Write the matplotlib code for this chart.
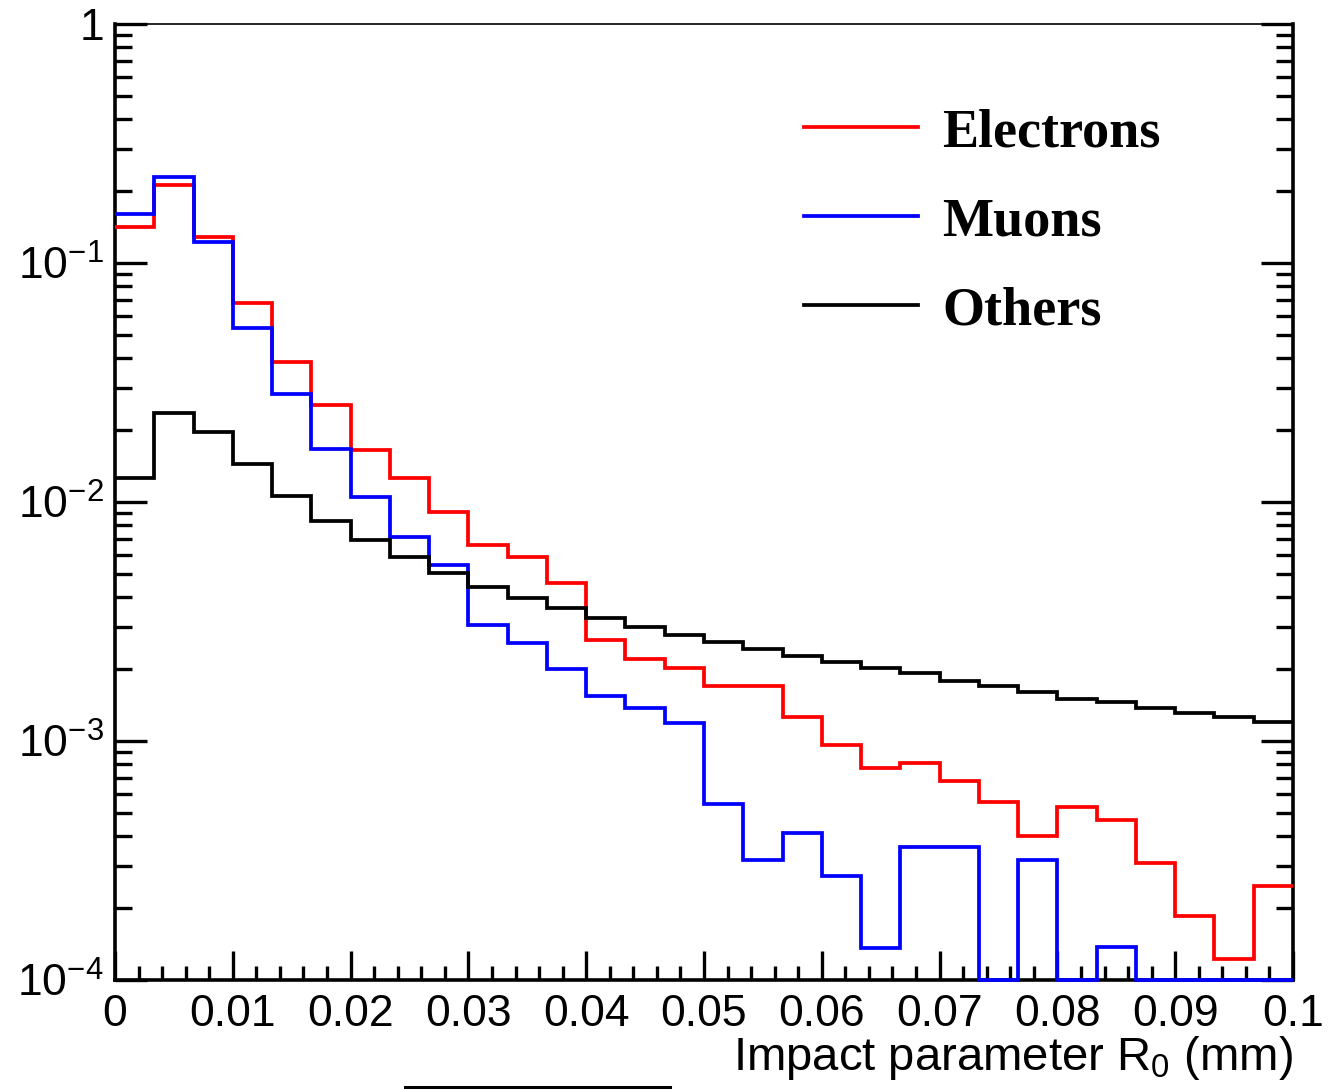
import numpy as np
import matplotlib
matplotlib.use("Agg")
import matplotlib.pyplot as plt
from matplotlib.lines import Line2D
from matplotlib.ticker import FixedLocator, NullFormatter

plt.rcParams['font.family'] = ['Liberation Sans', 'DejaVu Sans']
plt.rcParams['mathtext.fontset'] = 'custom'
plt.rcParams['mathtext.rm'] = 'Liberation Sans'
plt.rcParams['mathtext.it'] = 'Liberation Sans'

# 30 bins over [0, 0.1] mm, normalised fractions per bin
edges = np.linspace(0.0, 0.1, 31)

electrons = [0.1419, 0.2120, 0.1288, 0.0678, 0.0384, 0.02546, 0.01650, 0.01263,
             0.00911, 0.00661, 0.00590, 0.00457, 0.002646, 0.002198, 0.002014,
             0.001698, 0.001698, 0.001266, 0.000958, 0.000773, 0.000807, 0.000680,
             0.000557, 0.000402, 0.000528, 0.000466, 0.000308, 0.000186, 0.000123,
             0.000247]
muons = [0.1599, 0.2297, 0.1221, 0.0533, 0.02831, 0.01661, 0.01052, 0.00716,
         0.00545, 0.003057, 0.002563, 0.001995, 0.001543, 0.001371, 0.001186,
         0.000547, 0.000318, 0.000411, 0.000272, 0.0001355, 0.000361, 0.000361,
         0.0, 0.000318, 0.0, 0.000137, 0.0, 0.0, 0.0, 0.0]
others = [0.01257, 0.02350, 0.01968, 0.01438, 0.01062, 0.00835, 0.00693, 0.00587,
          0.00507, 0.00439, 0.00395, 0.00359, 0.00326, 0.00301, 0.00278, 0.00259,
          0.00243, 0.00227, 0.00215, 0.00203, 0.00192, 0.00179, 0.00170, 0.00160,
          0.00150, 0.00145, 0.00138, 0.00131, 0.00126, 0.00120]

series = [("Electrons", electrons, "#ff0000"),
          ("Muons", muons, "#0000ff"),
          ("Others", others, "#000000")]

xticks = [0.0, 0.01, 0.02, 0.03, 0.04, 0.05, 0.06, 0.07, 0.08, 0.09, 0.1]
xticklabels = ["0", "0.01", "0.02", "0.03", "0.04", "0.05", "0.06", "0.07", "0.08", "0.09", "0.1"]
yticks = [1e-4, 1e-3, 1e-2, 1e-1, 1.0]
yticklabels = [r"$10^{-4}$", r"$10^{-3}$", r"$10^{-2}$", r"$10^{-1}$", "1"]

ymin, ymax = 1e-4, 1.0

W, H = 1329, 1090
fig = plt.figure(figsize=(W/100, H/100), dpi=100)
ax = fig.add_axes([115/W, 1 - 980/H, (1293-115)/W, (980-24)/H])

handles = []
for name, vals, col in series:
    v = np.maximum(np.array(vals), ymin)   # empty bins sit on the axis, like ROOT
    ax.stairs(v, edges, baseline=None, color=col, lw=2.7, clip_on=False, zorder=3)
    handles.append(Line2D([], [], color=col, lw=2.7, label=name))

ax.set_yscale("log")
ax.set_xlim(0, 0.1)
ax.set_ylim(ymin, ymax)

ax.set_xticks(xticks)
ax.set_xticklabels(xticklabels)
ax.xaxis.set_minor_locator(FixedLocator(np.arange(0, 0.1001, 0.002)))
ax.set_yticks(yticks)
ax.set_yticklabels(yticklabels)
ax.yaxis.set_minor_locator(FixedLocator([m * 10.0**e for e in range(-4, 0) for m in range(2, 10)]))
ax.yaxis.set_minor_formatter(NullFormatter())

ax.tick_params(axis="both", which="both", direction="in", width=2.4, labelsize=32, colors="black")
ax.tick_params(axis="x", which="major", length=21, pad=10, top=False)
ax.tick_params(axis="x", which="minor", length=10, top=False)
ax.tick_params(axis="y", which="major", length=23, pad=8, right=True)
ax.tick_params(axis="y", which="minor", length=12, right=True)

for side in ("left", "bottom", "right"):
    ax.spines[side].set_linewidth(2.6)
ax.spines["top"].set_linewidth(1.2)

ax.text(1.0, -0.056, r"Impact parameter R$_{0}$ (mm)", transform=ax.transAxes,
        ha="right", va="top", fontsize=34)

leg = ax.legend(handles=handles, loc="upper left", bbox_to_anchor=(0.585, 0.912),
                frameon=False, handlelength=2.1, handletextpad=0.45, labelspacing=0.72,
                borderpad=0, borderaxespad=0,
                prop=dict(family="Liberation Serif", weight="bold", size=39))

fig.add_artist(Line2D([405/W, 670/W], [1 - 1087/H, 1 - 1087/H], color="black", lw=2.2))

fig.savefig("out.png", dpi=100)
